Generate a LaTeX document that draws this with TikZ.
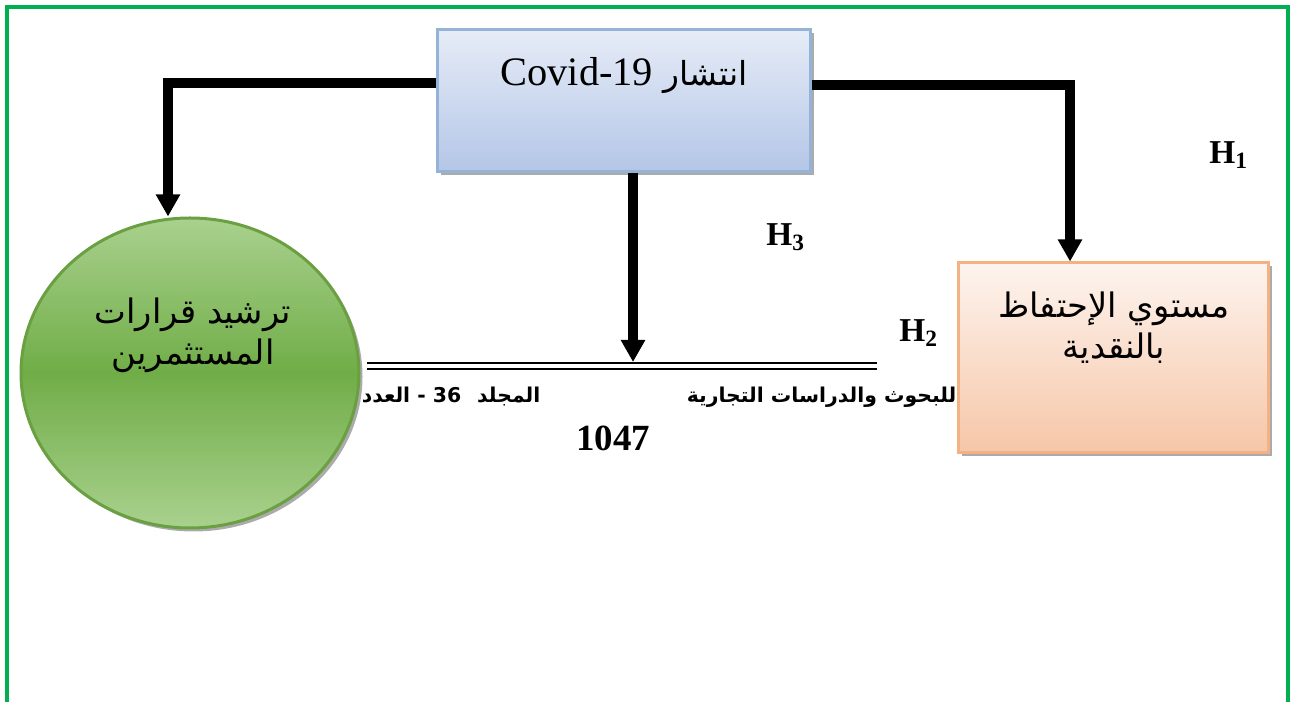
\documentclass[tikz,border=0pt]{standalone}
\usepackage{fontspec}
\setmainfont{Liberation Serif}
\newfontfamily\arabicfont[Script=Arabic]{DejaVu Sans}
\TeXXeTstate=1
\usetikzlibrary{arrows.meta,shapes.geometric,shadows}
\definecolor{frameg}{HTML}{00B050}
\definecolor{bluetop}{HTML}{E6ECF7}
\definecolor{bluebot}{HTML}{B4C6E7}
\definecolor{blueedge}{HTML}{95B3D7}
\definecolor{peachtop}{HTML}{FDF4EE}
\definecolor{peachbot}{HTML}{F6C6A8}
\definecolor{peachedge}{HTML}{F4B183}
\definecolor{greenlight}{HTML}{A9D18E}
\definecolor{greenmid}{HTML}{70AD47}
\definecolor{greenedge}{HTML}{6A9F42}
\tikzset{
  conn/.style={line width=1mm, -{Triangle[width=2.3mm,length=2.2mm]}},
  shad/.style={drop shadow={shadow xshift=0.35mm, shadow yshift=-0.35mm, opacity=0.6, fill=black!55}},
  hlabel/.style={font=\fontsize{9.5}{11}\selectfont\bfseries, inner sep=0pt},
  artext/.style={font=\arabicfont\fontsize{9.6}{11.6}\selectfont, align=center, inner sep=0pt},
  smallar/.style={font=\arabicfont\fontsize{5.8}{7}\selectfont\bfseries, inner sep=0pt},
}
\begin{document}
\begin{tikzpicture}[x=0.1mm, y=-0.1mm]
\useasboundingbox (0,0) rectangle (1299,702);
% frame
\draw[frameg, line width=0.4mm] (7,702) -- (7,7) -- (1288,7) -- (1288,702);

% boxes
\node[shad, draw=blueedge, line width=0.3mm, top color=bluetop, bottom color=bluebot,
      minimum width=37.3mm, minimum height=14.2mm, inner sep=0pt] (top) at (623.5,101) {};
\node[inner sep=0pt] (toptxt) at (624,76)
  {\arabicfont\fontsize{9.4}{14}\selectfont\beginR انتشار \beginL{\rmfamily\fontsize{11.5}{14}\selectfont Covid-19}\endL\endR};

\node[shad, ellipse, draw=greenedge, line width=0.3mm, top color=greenlight, bottom color=greenlight, middle color=greenmid,
      minimum width=33.8mm, minimum height=31mm, inner sep=0pt] (circ) at (190,373) {};
\node[artext] (circtxt) at (193,335) {\beginR ترشيد قرارات\endR\\ \beginR المستثمرين\endR};

% bottom texts
\node[smallar, anchor=east] (journal) at (957,397) {\beginR للبحوث والدراسات التجارية\endR};
\node[smallar, anchor=east] (vol) at (541,397) {\beginR المجلد\hspace{1.6mm}\beginL36\endL{} - العدد\endR};
\node[font=\fontsize{10.5}{12}\selectfont\bfseries, inner sep=0pt] (page) at (613,438) {1047};

\node[shad, draw=peachedge, line width=0.3mm, top color=peachtop, bottom color=peachbot,
      minimum width=31mm, minimum height=19mm, inner sep=0pt] (rbox) at (1113,358) {};
\node[artext] (rboxtxt) at (1114,328) {\beginR مستوي الإحتفاظ\endR\\ \beginR بالنقدية\endR};

% double line
\coordinate (dl1) at (367,363);
\coordinate (dl2) at (877,363);
\coordinate (dl3) at (367,369);
\coordinate (dl4) at (877,369);
\coordinate (mid) at (633,362);
\draw[line width=0.28mm] (dl1) -- (dl2);
\draw[line width=0.2mm] (dl3) -- (dl4);

% connectors
\draw[conn] ([yshift=1.8mm]top.west) -| ([xshift=-2.2mm]circ.north);
\draw[conn] ([yshift=1.6mm]top.east) -| ([xshift=-4.3mm]rbox.north);
\draw[conn] (top.south -| mid) -- (mid);

% labels
\node[hlabel] (h1) at (1229,155) {H\textsubscript{1}};
\node[hlabel] (h3) at (786,237) {H\textsubscript{3}};
\node[hlabel] (h2) at (919,333) {H\textsubscript{2}};
\end{tikzpicture}
\end{document}
